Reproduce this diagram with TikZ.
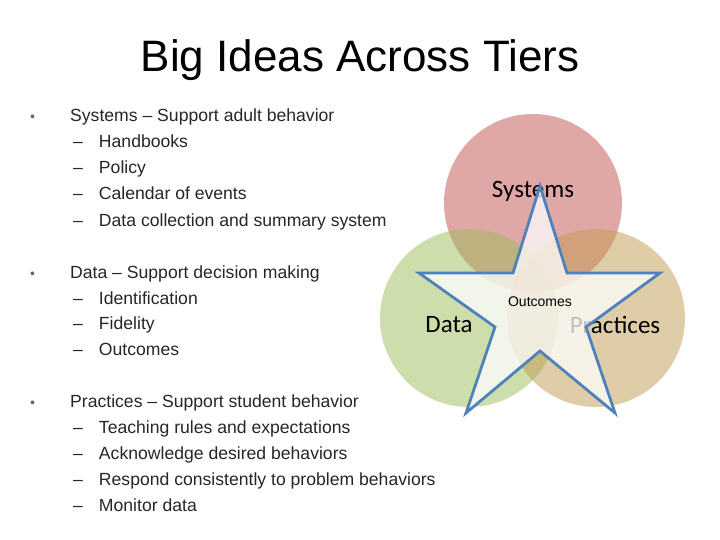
\documentclass[tikz,border=0pt]{standalone}
\usepackage{fontspec}
\setmainfont{Liberation Sans}
\newfontfamily\carlitofont{Carlito}
\definecolor{sysc}{HTML}{C0504D}
\definecolor{datc}{HTML}{9BBB59}
\definecolor{prac}{HTML}{C09B50}
\definecolor{starc}{HTML}{4F81BD}
\begin{document}
\begin{tikzpicture}[x=1pt,y=-1pt,
  txt/.style={anchor=base west,inner sep=0,font=\fontsize{17.6}{17.6}\selectfont,text=black!85},
  bul/.style={anchor=base west,inner sep=0,font=\fontsize{14}{14}\selectfont,text=black!60},
  lab/.style={font=\carlitofont\fontsize{25}{25}\selectfont,inner sep=0}]
\useasboundingbox (0,0) rectangle (720,540);
\node[anchor=base,inner sep=0,font=\fontsize{44}{44}\selectfont] (title) at (360,72) {Big Ideas Across Tiers};
% bullets
\node[bul] (b1) at (30,122) {•};
\node[txt] (s0) at (70,122) {Systems – Support adult behavior};
\node[txt] (s1) at (73,148) {–\hspace{16pt}Handbooks};
\node[txt] (s2) at (73,174) {–\hspace{16pt}Policy};
\node[txt] (s3) at (73,200) {–\hspace{16pt}Calendar of events};
\node[txt] (s4) at (73,226) {–\hspace{16pt}Data collection and summary system};
\node[bul] (b2) at (30,278) {•};
\node[txt] (d0) at (70,278) {Data – Support decision making};
\node[txt] (d1) at (73,304) {–\hspace{16pt}Identification};
\node[txt] (d2) at (73,329) {–\hspace{16pt}Fidelity};
\node[txt] (d3) at (73,355) {–\hspace{16pt}Outcomes};
\node[bul] (b3) at (30,407) {•};
\node[txt] (p0) at (70,407) {Practices – Support student behavior};
\node[txt] (p1) at (73,433) {–\hspace{16pt}Teaching rules and expectations};
\node[txt] (p2) at (73,459) {–\hspace{16pt}Acknowledge desired behaviors};
\node[txt] (p3) at (73,485) {–\hspace{16pt}Respond consistently to problem behaviors};
\node[txt] (p4) at (73,511) {–\hspace{16pt}Monitor data};
% venn
\fill[sysc, opacity=0.5] (533,203) circle (89);
\fill[datc, opacity=0.5] (469,318) circle (89);
\fill[prac, opacity=0.5] (596,318) circle (89);
\node[lab] (sys) at (533,191) {Systems};
\node[lab] (dat) at (449,325) {Data};
\node[lab] (pra) at (615,325) {Practices};
\filldraw[fill=white,fill opacity=0.75,draw=starc,line width=2.8pt,line join=miter]
 (540,186) -- (567,273) -- (660,273) -- (586,327) -- (615,413) -- (540,351)
 -- (466,413) -- (495,327) -- (419,273) -- (513,273) -- cycle;
\node[inner sep=0,font=\fontsize{14}{14}\selectfont] (out) at (540,302) {Outcomes};
\end{tikzpicture}
\end{document}
